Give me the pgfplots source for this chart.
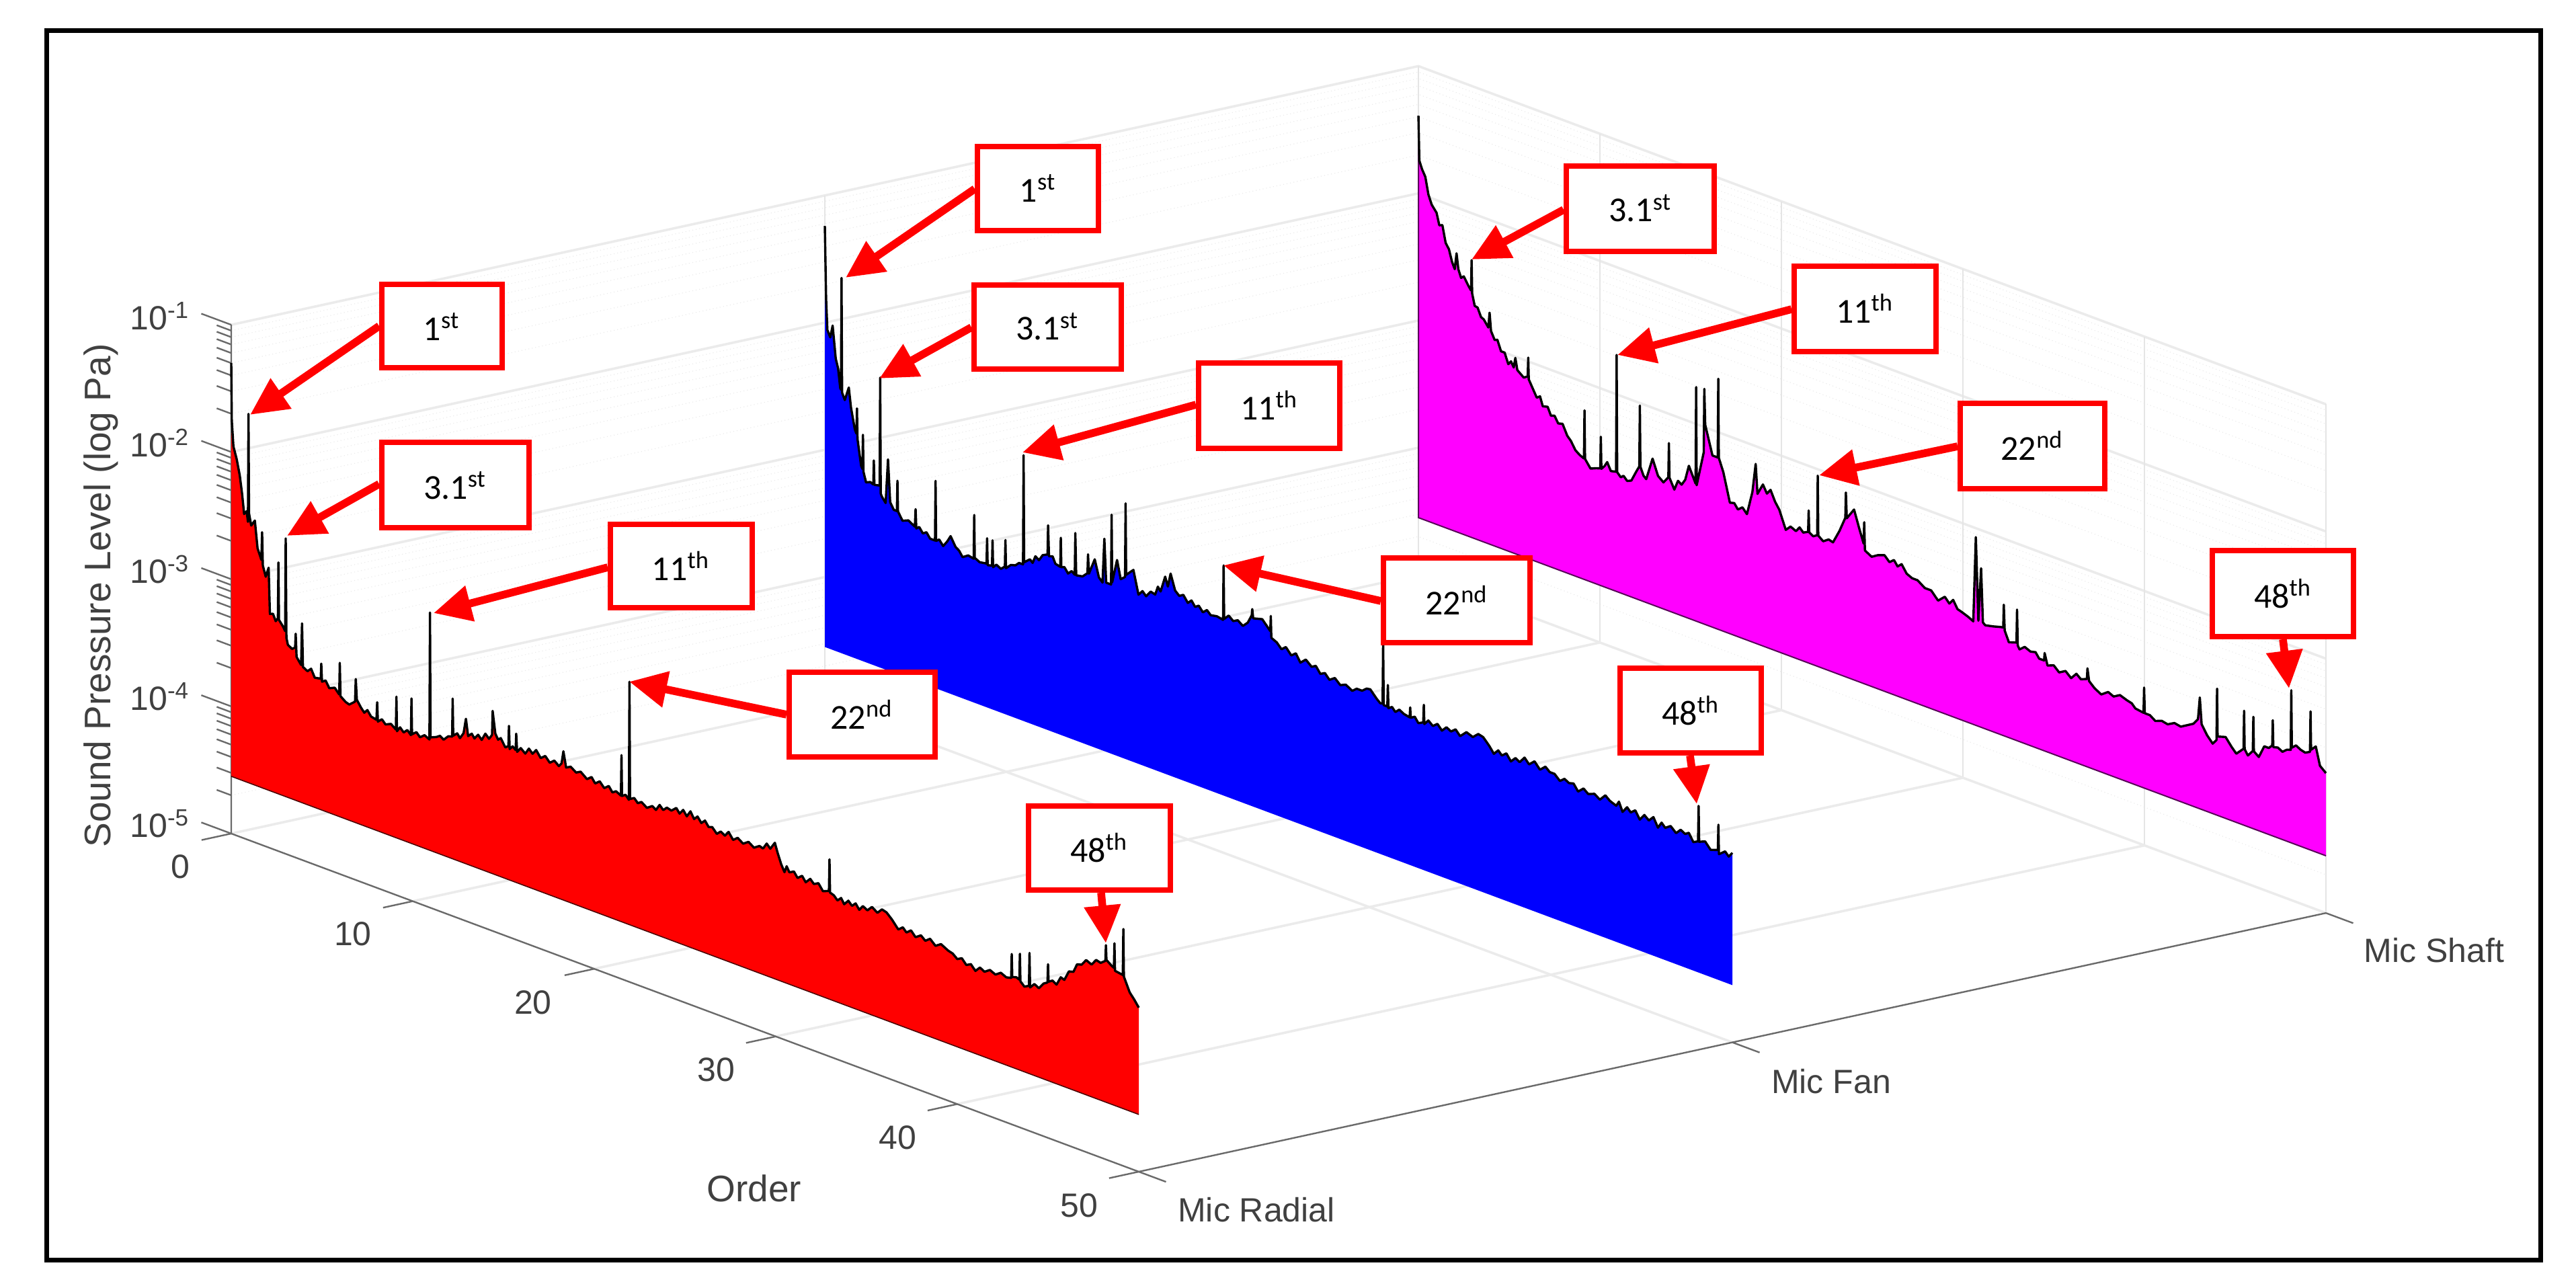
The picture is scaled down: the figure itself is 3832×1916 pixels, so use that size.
\documentclass[border=0pt]{standalone}
\usepackage{pgfplots}
\usepackage{pgfplotstable}
\usepackage{fontspec}
\pgfplotsset{compat=1.18}
\usetikzlibrary{arrows.meta}
\setmainfont{Liberation Sans}
\newfontfamily\boxfont{Carlito}
\definecolor{axgray}{HTML}{6A6A6A}
\definecolor{txtgray}{HTML}{404040}
\definecolor{magwall}{HTML}{FF00FF}

% order, log10(SPL in Pa)
\pgfplotstableread[row sep=\\]{o z\\
0 -1.30\\ 0.03 -1.75\\ 0.12 -1.95\\ 0.3 -2.04\\ 0.47 -2.16\\ 0.6 -2.30\\ 0.71 -2.45\\ 0.85 -2.42\\ 0.92 -2.50\\ 0.95 -1.65\\ 0.98 -2.43\\
1.1 -2.52\\ 1.3 -2.47\\ 1.45 -2.68\\ 1.66 -2.76\\ 1.7 -2.54\\ 1.74 -2.80\\ 1.9 -2.88\\ 2.06 -2.80\\ 2.13 -3.16\\ 2.3 -3.15\\ 2.45 -3.20\\ 2.57 -3.17\\ 2.6 -2.73\\ 2.63 -3.18\\ 2.85 -3.22\\ 2.97 -3.25\\ 3.0 -2.52\\ 3.04 -3.30\\ 3.12 -3.35\\ 3.35 -3.37\\ 3.52 -3.35\\ 3.55 -3.24\\ 3.6 -3.42\\ 3.85 -3.47\\ 3.9 -3.14\\ 3.95 -3.48\\
4.2 -3.50\\ 4.4 -3.47\\ 4.6 -3.53\\ 4.93 -3.52\\ 4.96 -3.40\\ 5.0 -3.54\\ 5.2 -3.52\\ 5.4 -3.57\\ 5.7 -3.55\\ 5.95 -3.59\\ 5.98 -3.34\\ 6.02 -3.60\\ 6.3 -3.63\\ 6.5 -3.64\\ 6.82 -3.60\\ 6.86 -3.42\\ 6.92 -3.58\\ 7.15 -3.63\\ 7.33 -3.66\\ 7.5 -3.63\\ 7.7 -3.67\\ 8.0 -3.68\\ 8.04 -3.54\\ 8.08 -3.69\\ 8.3 -3.66\\ 8.5 -3.69\\ 8.8 -3.67\\ 9.07 -3.70\\ 9.1 -3.44\\ 9.13 -3.71\\ 9.3 -3.67\\ 9.5 -3.70\\ 9.7 -3.67\\ 9.9 -3.70\\ 9.93 -3.41\\ 9.96 -3.69\\ 10.2 -3.66\\ 10.4 -3.69\\ 10.65 -3.66\\ 10.92 -3.68\\ 10.95 -2.68\\ 10.98 -3.66\\
11.3 -3.64\\ 11.5 -3.62\\ 11.7 -3.64\\ 11.95 -3.60\\ 12.17 -3.59\\ 12.2 -3.29\\ 12.23 -3.58\\ 12.45 -3.55\\ 12.6 -3.58\\ 12.8 -3.53\\ 12.93 -3.41\\ 13.05 -3.54\\ 13.25 -3.51\\ 13.4 -3.54\\ 13.6 -3.50\\ 13.8 -3.53\\ 14.0 -3.47\\ 14.2 -3.50\\ 14.37 -3.46\\ 14.4 -3.27\\ 14.55 -3.44\\ 14.7 -3.48\\ 14.85 -3.46\\ 15.1 -3.52\\ 15.27 -3.50\\ 15.3 -3.34\\ 15.34 -3.52\\ 15.5 -3.49\\ 15.67 -3.51\\ 15.7 -3.38\\ 15.75 -3.52\\ 15.95 -3.48\\ 16.2 -3.51\\ 16.4 -3.46\\ 16.6 -3.49\\ 16.8 -3.45\\ 17.05 -3.50\\ 17.3 -3.47\\ 17.55 -3.51\\ 17.8 -3.48\\ 18.05 -3.51\\ 18.2 -3.48\\ 18.3 -3.38\\ 18.45 -3.50\\ 18.7 -3.48\\ 19.0 -3.51\\ 19.25 -3.49\\ 19.6 -3.53\\ 19.85 -3.50\\ 20.05 -3.54\\ 20.3 -3.51\\ 20.55 -3.55\\ 20.8 -3.52\\ 21.0 -3.56\\ 21.2 -3.54\\ 21.47 -3.56\\ 21.5 -3.24\\ 21.53 -3.56\\ 21.72 -3.54\\ 21.91 -3.57\\ 21.94 -2.64\\ 21.97 -3.56\\
22.2 -3.54\\ 22.4 -3.57\\ 22.6 -3.55\\ 22.9 -3.58\\ 23.2 -3.55\\ 23.4 -3.57\\ 23.6 -3.52\\ 23.8 -3.55\\ 24.0 -3.52\\ 24.25 -3.53\\ 24.52 -3.495\\ 24.7 -3.53\\ 24.9 -3.49\\ 25.1 -3.53\\ 25.3 -3.48\\ 25.5 -3.53\\ 25.69 -3.50\\ 25.9 -3.54\\ 26.1 -3.51\\ 26.3 -3.55\\ 26.5 -3.54\\ 26.75 -3.58\\ 26.97 -3.55\\ 27.2 -3.57\\ 27.4 -3.53\\ 27.65 -3.58\\ 27.9 -3.55\\ 28.2 -3.58\\ 28.5 -3.55\\ 28.8 -3.58\\ 29.1 -3.55\\ 29.3 -3.56\\ 29.5 -3.51\\ 29.7 -3.54\\ 29.95 -3.48\\ 30.1 -3.55\\ 30.3 -3.63\\ 30.48 -3.683\\ 30.6 -3.63\\ 30.75 -3.67\\ 31 -3.65\\ 31.2 -3.69\\ 31.45 -3.66\\ 31.65 -3.70\\ 31.9 -3.66\\ 32.1 -3.69\\ 32.35 -3.67\\ 32.6 -3.72\\ 32.93 -3.70\\ 32.96 -3.45\\ 32.99 -3.71\\ 33.2 -3.72\\ 33.4 -3.75\\ 33.6 -3.72\\ 33.77 -3.76\\ 34 -3.72\\ 34.2 -3.75\\ 34.4 -3.72\\ 34.6 -3.76\\ 34.8 -3.72\\ 35.05 -3.74\\ 35.3 -3.70\\ 35.6 -3.73\\ 35.85 -3.69\\ 36.1 -3.70\\ 36.4 -3.74\\ 36.75 -3.80\\ 37 -3.77\\ 37.2 -3.80\\ 37.45 -3.77\\ 37.7 -3.81\\ 38 -3.78\\ 38.24 -3.81\\ 38.5 -3.78\\ 38.8 -3.82\\ 39.1 -3.79\\ 39.5 -3.82\\ 39.75 -3.83\\ 40 -3.86\\ 40.25 -3.84\\ 40.5 -3.88\\ 40.75 -3.86\\ 41 -3.90\\ 41.25 -3.86\\ 41.5 -3.88\\ 41.8 -3.85\\ 42.1 -3.87\\ 42.4 -3.84\\ 42.7 -3.86\\ 42.97 -3.85\\ 43.0 -3.66\\ 43.03 -3.84\\ 43.25 -3.83\\ 43.42 -3.84\\ 43.45 -3.635\\ 43.48 -3.85\\ 43.7 -3.88\\ 43.95 -3.86\\ 43.98 -3.60\\ 44.01 -3.87\\ 44.25 -3.83\\ 44.5 -3.85\\ 44.75 -3.80\\ 44.97 -3.78\\ 45 -3.635\\ 45.03 -3.77\\ 45.25 -3.75\\ 45.47 -3.77\\ 45.7 -3.70\\ 45.9 -3.71\\ 46.15 -3.63\\ 46.4 -3.62\\ 46.6 -3.55\\ 46.85 -3.54\\ 47.1 -3.49\\ 47.4 -3.51\\ 47.65 -3.46\\ 47.9 -3.47\\ 48.16 -3.44\\ 48.19 -3.315\\ 48.22 -3.43\\ 48.5 -3.46\\ 48.63 -3.47\\ 48.66 -3.275\\ 48.69 -3.49\\ 49.12 -3.50\\ 49.15 -3.137\\ 49.18 -3.51\\ 49.5 -3.617\\ 49.75 -3.66\\ 50 -3.71\\
}\redtab

\pgfplotstableread[row sep=\\]{o z\\
0 -1.24\\ 0.07 -1.81\\ 0.14 -2.05\\ 0.3 -2.10\\ 0.43 -2.0\\ 0.6 -2.25\\ 0.73 -2.32\\ 0.85 -2.47\\ 0.89 -2.48\\ 0.92 -1.60\\ 0.95 -2.50\\ 1.1 -2.55\\ 1.32 -2.44\\ 1.44 -2.59\\ 1.65 -2.75\\ 1.74 -2.78\\ 1.77 -2.58\\ 1.8 -2.82\\ 2.0 -3.02\\ 2.07 -3.04\\ 2.1 -2.77\\ 2.13 -3.06\\ 2.27 -3.135\\ 2.5 -3.12\\ 2.67 -3.13\\ 2.7 -2.94\\ 2.73 -3.13\\ 3.02 -3.12\\ 3.05 -2.27\\ 3.08 -3.18\\ 3.14 -3.2\\ 3.35 -3.24\\ 3.48 -2.89\\ 3.6 -3.22\\ 3.8 -3.27\\ 3.97 -3.27\\ 4.0 -3.03\\ 4.03 -3.27\\ 4.28 -3.33\\ 4.6 -3.31\\ 4.96 -3.34\\ 5 -3.2\\ 5.04 -3.35\\ 5.2 -3.33\\ 5.4 -3.37\\ 5.6 -3.35\\ 5.8 -3.39\\ 6.07 -3.39\\ 6.1 -2.92\\ 6.13 -3.39\\ 6.3 -3.37\\ 6.52 -3.41\\ 6.75 -3.36\\ 6.93 -3.31\\ 7.2 -3.38\\ 7.4 -3.40\\ 7.59 -3.44\\ 7.9 -3.41\\ 8.2 -3.42\\ 8.23 -3.075\\ 8.26 -3.41\\ 8.53 -3.43\\ 8.91 -3.42\\ 8.94 -3.22\\ 8.97 -3.43\\ 9.21 -3.42\\ 9.24 -3.22\\ 9.27 -3.43\\ 9.45 -3.40\\ 9.7 -3.42\\ 9.92 -3.39\\ 9.95 -3.18\\ 9.98 -3.40\\ 10.25 -3.36\\ 10.5 -3.35\\ 10.7 -3.32\\ 10.92 -3.32\\ 10.95 -2.46\\ 10.98 -3.30\\
11.3 -3.26\\ 11.45 -3.28\\ 11.6 -3.22\\ 11.8 -3.24\\ 12.0 -3.19\\ 12.27 -3.17\\ 12.3 -2.94\\ 12.35 -3.18\\ 12.55 -3.17\\ 12.7 -3.22\\ 12.97 -3.23\\ 13 -3.0\\ 13.03 -3.23\\ 13.2 -3.22\\ 13.4 -3.26\\ 13.6 -3.23\\ 13.77 -3.25\\ 13.8 -2.92\\ 13.85 -3.25\\ 14.2 -3.24\\ 14.47 -3.2\\ 14.5 -3.05\\ 14.55 -3.2\\ 14.87 -3.07\\ 15.1 -3.2\\ 15.3 -3.23\\ 15.4 -2.88\\ 15.5 -3.22\\ 15.77 -3.22\\ 15.8 -2.67\\ 15.83 -3.2\\ 16.1 -3.01\\ 16.3 -3.15\\ 16.54 -3.12\\ 16.57 -2.54\\ 16.6 -3.1\\ 17 -3.04\\ 17.28 -3.22\\ 17.5 -3.18\\ 17.7 -3.21\\ 17.95 -3.16\\ 18.2 -3.17\\ 18.35 -3.10\\ 18.5 -3.13\\ 18.75 -3.0\\ 18.9 -3.07\\ 19.05 -2.96\\ 19.3 -3.08\\ 19.53 -3.11\\ 19.75 -3.09\\ 20.0 -3.14\\ 20.2 -3.11\\ 20.4 -3.15\\ 20.6 -3.13\\ 20.83 -3.17\\ 21.05 -3.14\\ 21.26 -3.17\\ 21.6 -3.16\\ 21.94 -3.17\\ 21.97 -2.74\\ 22 -3.16\\ 22.25 -3.12\\ 22.5 -3.15\\ 22.75 -3.13\\ 23.03 -3.16\\ 23.3 -3.12\\ 23.52 -3.05\\ 23.55 -3.0\\ 23.6 -3.07\\ 24.1 -3.05\\ 24.54 -3.12\\ 24.57 -3.0\\ 24.6 -3.17\\ 24.9 -3.19\\ 25.16 -3.23\\ 25.4 -3.20\\ 25.7 -3.25\\ 25.95 -3.22\\ 26.2 -3.28\\ 26.5 -3.24\\ 26.82 -3.28\\ 27.05 -3.26\\ 27.3 -3.31\\ 27.55 -3.29\\ 27.8 -3.33\\ 28.1 -3.30\\ 28.4 -3.34\\ 28.7 -3.32\\ 29.06 -3.35\\ 29.3 -3.32\\ 29.6 -3.32\\ 29.85 -3.29\\ 30.05 -3.285\\ 30.4 -3.34\\ 30.6 -3.365\\ 30.73 -3.36\\ 30.76 -2.86\\ 30.79 -3.37\\ 30.99 -3.37\\ 31.02 -3.2\\ 31.05 -3.38\\ 31.25 -3.36\\ 31.43 -3.39\\ 31.65 -3.36\\ 31.9 -3.38\\ 32.22 -3.39\\ 32.25 -3.31\\ 32.28 -3.39\\ 32.5 -3.37\\ 32.7 -3.41\\ 32.97 -3.39\\ 33 -3.25\\ 33.03 -3.40\\ 33.25 -3.36\\ 33.5 -3.39\\ 33.75 -3.36\\ 34 -3.40\\ 34.25 -3.36\\ 34.5 -3.38\\ 34.75 -3.35\\ 35 -3.39\\ 35.35 -3.34\\ 35.7 -3.36\\ 36 -3.32\\ 36.27 -3.33\\ 36.6 -3.38\\ 36.86 -3.43\\ 37.1 -3.39\\ 37.3 -3.42\\ 37.55 -3.39\\ 37.8 -3.44\\ 38.05 -3.40\\ 38.28 -3.42\\ 38.55 -3.37\\ 38.8 -3.41\\ 39.1 -3.37\\ 39.4 -3.42\\ 39.7 -3.38\\ 39.94 -3.41\\ 40.2 -3.41\\ 40.5 -3.45\\ 40.75 -3.42\\ 41 -3.44\\ 41.25 -3.43\\ 41.5 -3.48\\ 41.8 -3.44\\ 42.06 -3.47\\ 42.4 -3.45\\ 42.7 -3.48\\ 43 -3.43\\ 43.25 -3.46\\ 43.6 -3.48\\ 43.75 -3.44\\ 43.95 -3.51\\ 44.2 -3.46\\ 44.4 -3.49\\ 44.65 -3.46\\ 44.9 -3.52\\ 45.15 -3.47\\ 45.4 -3.50\\ 45.65 -3.46\\ 45.9 -3.53\\ 46.1 -3.48\\ 46.3 -3.51\\ 46.6 -3.48\\ 46.9 -3.52\\ 47.15 -3.48\\ 47.4 -3.50\\ 47.6 -3.48\\ 47.85 -3.54\\ 48.11 -3.52\\ 48.14 -3.24\\ 48.17 -3.52\\ 48.5 -3.50\\ 48.8 -3.55\\ 49.2 -3.53\\ 49.23 -3.33\\ 49.26 -3.56\\ 49.6 -3.52\\ 49.8 -3.55\\ 50 -3.51\\
}\bluetab

\pgfplotstableread[row sep=\\]{o z\\
0 -1.39\\ 0.05 -1.74\\ 0.2 -1.80\\ 0.38 -1.85\\ 0.55 -1.98\\ 0.73 -2.05\\ 1.0 -2.10\\ 1.15 -2.19\\ 1.32 -2.18\\ 1.5 -2.31\\ 1.68 -2.35\\ 1.85 -2.44\\ 2.0 -2.49\\ 2.1 -2.36\\ 2.2 -2.48\\ 2.35 -2.54\\ 2.5 -2.52\\ 2.75 -2.58\\ 2.9 -2.61\\ 2.93 -2.37\\ 2.96 -2.63\\ 3.1 -2.72\\ 3.26 -2.725\\ 3.45 -2.79\\ 3.6 -2.80\\ 3.85 -2.85\\ 3.92 -2.73\\ 4.0 -2.87\\ 4.2 -2.93\\ 4.35 -2.92\\ 4.55 -3.0\\ 4.75 -3.0\\ 4.95 -3.08\\ 5.1 -3.05\\ 5.25 -3.09\\ 5.34 -3.01\\ 5.45 -3.10\\ 5.8 -3.14\\ 6.02 -3.12\\ 6.05 -2.97\\ 6.08 -3.14\\ 6.3 -3.20\\ 6.52 -3.26\\ 6.7 -3.24\\ 6.85 -3.31\\ 7.12 -3.30\\ 7.3 -3.36\\ 7.5 -3.35\\ 7.7 -3.40\\ 7.94 -3.39\\ 8.2 -3.47\\ 8.4 -3.50\\ 8.65 -3.56\\ 8.89 -3.585\\ 9.12 -3.60\\ 9.15 -3.22\\ 9.18 -3.60\\ 9.48 -3.66\\ 9.8 -3.64\\ 10.02 -3.63\\ 10.05 -3.38\\ 10.08 -3.63\\ 10.25 -3.60\\ 10.4 -3.56\\ 10.6 -3.62\\ 10.89 -3.61\\ 10.92 -2.69\\ 10.95 -3.61\\ 11.15 -3.64\\ 11.3 -3.62\\ 11.5 -3.65\\ 11.73 -3.635\\ 12.0 -3.55\\ 12.17 -3.5\\ 12.2 -3.02\\ 12.23 -3.5\\ 12.4 -3.56\\ 12.55 -3.58\\ 12.9 -3.40\\ 13.2 -3.52\\ 13.5 -3.555\\ 13.77 -3.5\\ 13.8 -3.23\\ 13.83 -3.5\\ 14.1 -3.58\\ 14.3 -3.50\\ 14.5 -3.52\\ 14.7 -3.47\\ 14.9 -3.35\\ 15.27 -3.47\\ 15.3 -2.71\\ 15.33 -3.48\\ 15.72 -3.2\\ 15.75 -2.70\\ 15.8 -2.98\\ 16.2 -3.2\\ 16.49 -3.2\\ 16.52 -2.58\\ 16.55 -3.2\\ 16.8 -3.30\\ 17.16 -3.52\\ 17.4 -3.51\\ 17.6 -3.55\\ 17.85 -3.52\\ 18.1 -3.56\\ 18.4 -3.37\\ 18.58 -3.14\\ 18.68 -3.37\\ 18.98 -3.28\\ 19.2 -3.34\\ 19.4 -3.30\\ 19.65 -3.38\\ 19.88 -3.43\\ 20.24 -3.57\\ 20.5 -3.53\\ 20.8 -3.55\\ 21.0 -3.51\\ 21.2 -3.54\\ 21.47 -3.52\\ 21.5 -3.35\\ 21.53 -3.52\\ 21.75 -3.54\\ 21.97 -3.52\\ 22 -3.05\\ 22.03 -3.52\\ 22.3 -3.55\\ 22.6 -3.52\\ 22.84 -3.53\\ 23.2 -3.42\\ 23.52 -3.3\\ 23.55 -3.10\\ 23.6 -3.3\\ 24.0 -3.21\\ 24.3 -3.35\\ 24.53 -3.45\\ 24.56 -3.28\\ 24.6 -3.5\\ 24.97 -3.53\\ 25.3 -3.50\\ 25.68 -3.48\\ 25.95 -3.52\\ 26.2 -3.49\\ 26.4 -3.53\\ 26.62 -3.50\\ 26.9 -3.56\\ 27.2 -3.58\\ 27.5 -3.58\\ 27.9 -3.62\\ 28.25 -3.62\\ 28.63 -3.68\\ 29.0 -3.63\\ 29.25 -3.67\\ 29.46 -3.63\\ 29.7 -3.69\\ 29.93 -3.70\\ 30.3 -3.72\\ 30.57 -3.74\\ 30.71 -3.07\\ 30.85 -3.72\\ 31.0 -3.30\\ 31.1 -3.72\\ 31.23 -3.736\\ 31.7 -3.72\\ 32.06 -3.705\\ 32.22 -3.70\\ 32.25 -3.52\\ 32.3 -3.72\\ 32.53 -3.80\\ 32.95 -3.78\\ 32.98 -3.52\\ 33.02 -3.80\\ 33.12 -3.825\\ 33.4 -3.79\\ 33.72 -3.81\\ 34 -3.80\\ 34.2 -3.84\\ 34.47 -3.84\\ 34.5 -3.78\\ 34.66 -3.87\\ 35 -3.85\\ 35.3 -3.89\\ 35.65 -3.86\\ 35.96 -3.90\\ 36.25 -3.85\\ 36.5 -3.88\\ 36.83 -3.86\\ 36.86 -3.775\\ 36.95 -3.87\\ 37.25 -3.91\\ 37.62 -3.94\\ 38 -3.90\\ 38.3 -3.92\\ 38.65 -3.89\\ 39.03 -3.91\\ 39.3 -3.92\\ 39.5 -3.95\\ 39.95 -3.96\\ 39.98 -3.76\\ 40.02 -3.96\\ 40.3 -3.96\\ 40.6 -3.99\\ 40.95 -3.97\\ 41.28 -3.98\\ 41.65 -3.95\\ 42 -3.96\\ 42.35 -3.93\\ 42.7 -3.90\\ 42.95 -3.85\\ 43.05 -3.675\\ 43.15 -3.88\\ 43.45 -3.95\\ 43.76 -4.0\\ 43.97 -3.96\\ 44 -3.555\\ 44.03 -3.93\\ 44.47 -3.91\\ 44.8 -3.97\\ 45.06 -4.01\\ 45.46 -3.95\\ 45.49 -3.65\\ 45.52 -3.95\\ 45.7 -3.99\\ 45.97 -3.94\\ 46 -3.67\\ 46.03 -3.94\\ 46.3 -3.97\\ 46.6 -3.87\\ 46.85 -3.87\\ 47.04 -3.84\\ 47.07 -3.64\\ 47.1 -3.85\\ 47.35 -3.84\\ 47.6 -3.86\\ 47.85 -3.83\\ 48.06 -3.82\\ 48.09 -3.35\\ 48.12 -3.80\\ 48.35 -3.77\\ 48.6 -3.79\\ 48.85 -3.80\\ 49.12 -3.78\\ 49.15 -3.46\\ 49.18 -3.76\\ 49.44 -3.72\\ 49.67 -3.86\\ 50 -3.90\\
}\magtab

\tikzset{
  mgrid/.style={black!8,line width=.9pt},
  vgrid/.style={black!10,line width=.35pt},
  ngrid/.style={black!8,line width=.3pt,densely dotted},
  axln/.style={axgray,line width=.6pt},
}

\begin{document}
\begin{tikzpicture}
\begin{axis}[
  hide axis, clip=false,
  x={(6.75pt,-2.515pt)}, y={(220.75pt,48.1pt)}, z={(0pt,47.3pt)},
  xmin=0,xmax=50,ymin=0,ymax=2,zmin=-5,zmax=-1,
]
% back walls
\pgfplotsinvokeforeach{-4.699,-4.523,-4.398,-4.301,-4.222,-4.155,-4.097,-4.046,-3.699,-3.523,-3.398,-3.301,-3.222,-3.155,-3.097,-3.046,-2.699,-2.523,-2.398,-2.301,-2.222,-2.155,-2.097,-2.046,-1.699,-1.523,-1.398,-1.301,-1.222,-1.155,-1.097,-1.046}{
  \draw[ngrid] (axis cs:0,0,#1) -- (axis cs:0,2,#1) -- (axis cs:50,2,#1);
  \draw[axln] (axis cs:0,0,#1) -- (axis cs:-0.8,0,#1);
}
\pgfplotsinvokeforeach{-1,-2,-3,-4}{
  \draw[mgrid] (axis cs:0,0,#1) -- (axis cs:0,2,#1) -- (axis cs:50,2,#1);
}
\pgfplotsinvokeforeach{10,20,30,40,50}{
  \draw[vgrid] (axis cs:#1,2,-5) -- (axis cs:#1,2,-1);
}
\pgfplotsinvokeforeach{1,2}{
  \draw[vgrid] (axis cs:0,#1,-5) -- (axis cs:0,#1,-1);
}
% floor
\draw[mgrid] (axis cs:0,0,-5) -- (axis cs:0,2,-5) -- (axis cs:50,2,-5);
\draw[mgrid] (axis cs:0,1,-5) -- (axis cs:50,1,-5);
\pgfplotsinvokeforeach{10,20,30,40}{
  \draw[mgrid] (axis cs:#1,0,-5) -- (axis cs:#1,2,-5);
}
% box lines and ticks
\draw[axln] (axis cs:0,0,-1) -- (axis cs:0,0,-5) -- (axis cs:50,0,-5) -- (axis cs:50,2,-5);
\pgfplotsinvokeforeach{-1,-2,-3,-4,-5}{
  \draw[axln] (axis cs:0,0,#1) -- (axis cs:-1.65,0,#1);
}
\pgfplotsinvokeforeach{0,10,20,30,40,50}{
  \draw[axln] (axis cs:#1,0,-5) -- (axis cs:#1,-0.05,-5);
}
\pgfplotsinvokeforeach{0,1,2}{
  \draw[axln] (axis cs:50,#1,-5) -- (axis cs:51.5,#1,-5);
}
% walls, back to front
\addplot3[fill=magwall,draw=none] table[x=o,y expr=2,z=z] {\magtab} -- (axis cs:50,2,-4.55) -- (axis cs:0,2,-4.55) -- cycle;
\addplot3[black!65!magwall,line width=.5pt] coordinates {(0,2,-1.6) (0,2,-4.55) (50,2,-4.55)};
\addplot3[black,line width=.85pt,line join=round] table[x=o,y expr=2,z=z] {\magtab};
\addplot3[fill=blue,draw=none] table[x=o,y expr=1,z=z] {\bluetab} -- (axis cs:50,1,-4.55) -- (axis cs:0,1,-4.55) -- cycle;
\addplot3[black,line width=.85pt,line join=round] table[x=o,y expr=1,z=z] {\bluetab};
\addplot3[fill=red,draw=none] table[x=o,y expr=0,z=z] {\redtab} -- (axis cs:50,0,-4.55) -- (axis cs:0,0,-4.55) -- cycle;
\addplot3[black!70!red,line width=.4pt] coordinates {(0,0,-4.55) (50,0,-4.55)};
\addplot3[black,line width=.85pt,line join=round] table[x=o,y expr=0,z=z] {\redtab};
\coordinate (O) at (axis cs:0,0,-5);
\end{axis}
% everything below in pixels of the reference
\begin{scope}[shift={(O)},x=.25pt,y=-.25pt,shift={(-344,-1240)}]
\path[use as bounding box] (0,0) rectangle (3832,1916);
\draw[black,line width=1.75pt] (69.5,45.5) rectangle (3779.5,1874.5);
\tikzset{
  tk/.style={text=txtgray,font=\fontsize{12.5}{14}\selectfont,inner sep=0pt},
  lb/.style={text=txtgray,font=\fontsize{13.75}{15}\selectfont,inner sep=0pt},
  call/.style={draw=red,line width=2pt,fill=white,text=black},
  arr/.style={draw=red,line width=2.9pt,-{Triangle[length=14pt,width=13pt,fill=red]}},
  lbl/.style={text=black,font=\boxfont\fontsize{13}{15}\selectfont,inner sep=0pt},
}
\node[lb,rotate=90] at (150,886) {Sound Pressure Level (log Pa)};
\node[lb] at (1122,1768) {Order};
\node[tk,anchor=base east] at (283,491) {10\textsuperscript{-1}};
\node[tk,anchor=base east] at (283,680) {10\textsuperscript{-2}};
\node[tk,anchor=base east] at (283,868) {10\textsuperscript{-3}};
\node[tk,anchor=base east] at (283,1057) {10\textsuperscript{-4}};
\node[tk,anchor=base east] at (283,1246) {10\textsuperscript{-5}};
\node[tk] at (268,1289) {0};
\node[tk] at (525,1389) {10};
\node[tk] at (793,1491) {20};
\node[tk] at (1065,1591) {30};
\node[tk] at (1335,1692) {40};
\node[tk] at (1605,1793) {50};
\node[tk] at (1869,1800) {Mic Radial};
\node[tk] at (2724,1609) {Mic Fan};
\node[tk] at (3621,1414) {Mic Shaft};
% arrows then boxes
\draw[arr] (564,485) -- (372,617);
\draw[arr] (564,720) -- (427,797);
\draw[arr] (904,844) -- (645,912);
\draw[arr] (1170,1063) -- (936,1014);
\draw[arr] (1638,1328) -- (1645,1403);
\draw[arr] (1450,281) -- (1258,413);
\draw[arr] (1445,487) -- (1308,563);
\draw[arr] (1779,602) -- (1521,673);
\draw[arr] (2054,894) -- (1820,841);
\draw[arr] (2514,1124) -- (2524,1196);
\draw[arr] (2326,312) -- (2189,386);
\draw[arr] (2665,460) -- (2406,528);
\draw[arr] (2912,664) -- (2706,707);
\draw[arr] (3396,951) -- (3405,1024);
\draw[call] (568,423) rectangle (747,547);   \node[lbl] at (657,486) {1\textsuperscript{st}};
\draw[call] (568,658) rectangle (787,785);   \node[lbl] at (677,722) {3.1\textsuperscript{st}};
\draw[call] (908,780) rectangle (1119,904);  \node[lbl] at (1013,842) {11\textsuperscript{th}};
\draw[call] (1174,1000) rectangle (1391,1126); \node[lbl] at (1282,1063) {22\textsuperscript{nd}};
\draw[call] (1530,1199) rectangle (1741,1324); \node[lbl] at (1635,1261) {48\textsuperscript{th}};
\draw[call] (1454,218) rectangle (1634,343); \node[lbl] at (1544,280) {1\textsuperscript{st}};
\draw[call] (1449,424) rectangle (1668,549); \node[lbl] at (1558,486) {3.1\textsuperscript{st}};
\draw[call] (1783,540) rectangle (1993,667); \node[lbl] at (1888,603) {11\textsuperscript{th}};
\draw[call] (2058,830) rectangle (2276,956); \node[lbl] at (2167,893) {22\textsuperscript{nd}};
\draw[call] (2410,994) rectangle (2620,1120); \node[lbl] at (2515,1057) {48\textsuperscript{th}};
\draw[call] (2330,247) rectangle (2550,374); \node[lbl] at (2440,310) {3.1\textsuperscript{st}};
\draw[call] (2669,396) rectangle (2880,523); \node[lbl] at (2774,459) {11\textsuperscript{th}};
\draw[call] (2916,600) rectangle (3131,727); \node[lbl] at (3023,663) {22\textsuperscript{nd}};
\draw[call] (3291,819) rectangle (3501,947); \node[lbl] at (3396,883) {48\textsuperscript{th}};
\end{scope}
\end{tikzpicture}
\end{document}
